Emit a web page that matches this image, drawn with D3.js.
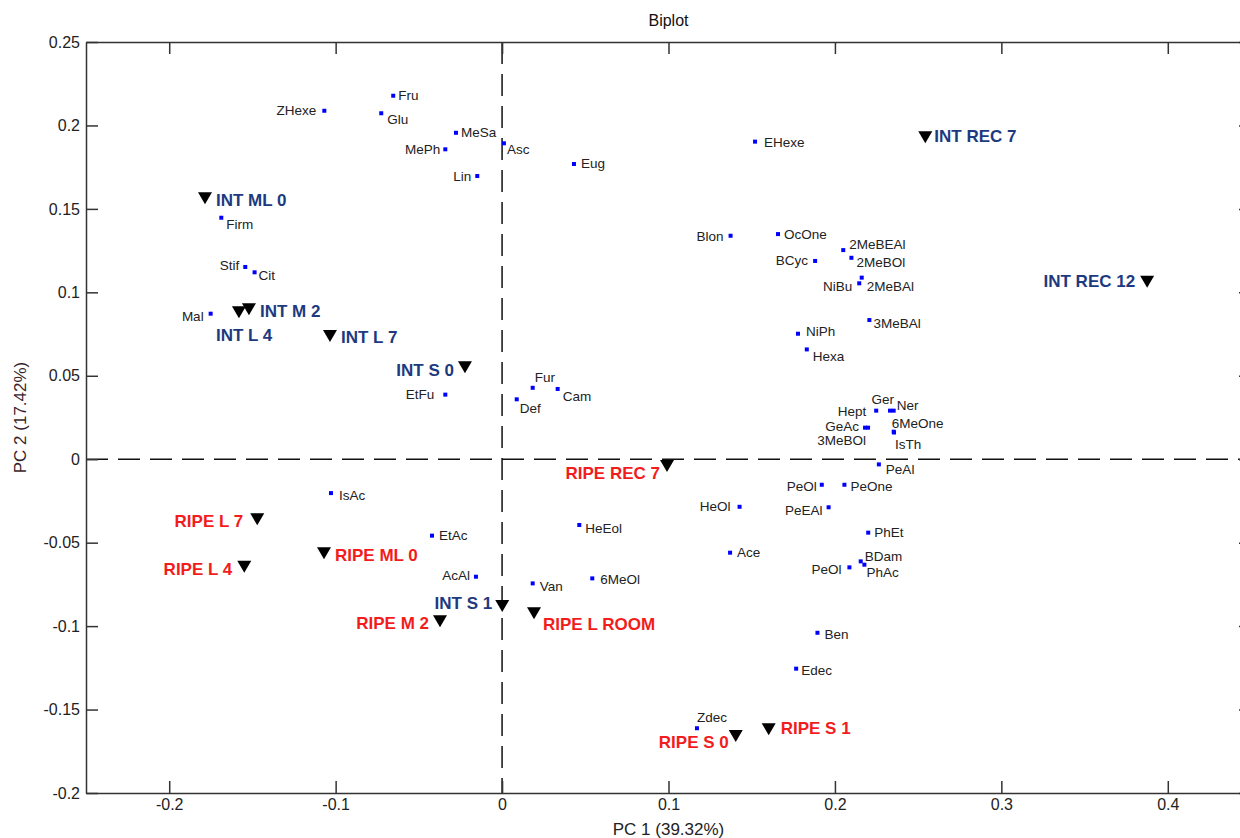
<!DOCTYPE html>
<html>
<head>
<meta charset="utf-8">
<script src="https://cdn.jsdelivr.net/npm/d3@7"></script>
<style>
  body { margin: 0; background: #fff; }
  svg { font-family: "Liberation Sans", Arial, sans-serif; }
</style>
</head>
<body>
<svg id="chart" width="1240" height="838"></svg>
<script>
// variable loadings (blue squares)
const varNames = ["Fru", "ZHexe", "Glu", "MeSa", "MePh", "Asc", "Eug", "Lin", "Firm", "Stif", "Cit", "Mal",
  "EtFu", "Fur", "Def", "Cam", "EHexe", "Blon", "OcOne", "2MeBEAl", "BCyc", "2MeBOl", "NiBu", "2MeBAl",
  "NiPh", "3MeBAl", "Hexa", "Hept", "Ger", "Ner", "GeAc", "3MeBOl", "6MeOne", "IsTh", "PeAl", "PeOl",
  "PeOne", "HeOl", "PeEAl", "PhEt", "Ace", "BDam", "PhAc", "PeOl", "Ben", "Edec", "Zdec", "IsAc",
  "EtAc", "AcAl", "Van", "6MeOl", "HeEol"];
const varPC1 = [-0.0654, -0.1068, -0.0726, -0.0277, -0.0341, 0.0011, 0.0432, -0.0149, -0.1687, -0.1543, -0.1487, -0.1751,
  -0.0341, 0.0184, 0.0088, 0.0334, 0.1520, 0.1373, 0.1658, 0.2050, 0.1881, 0.2099, 0.2146, 0.2161,
  0.1778, 0.2207, 0.1831, 0.2248, 0.2331, 0.2353, 0.2181, 0.2199, 0.2353, 0.2355, 0.2264, 0.1921,
  0.2057, 0.1427, 0.1962, 0.2200, 0.1370, 0.2155, 0.2177, 0.2087, 0.1895, 0.1767, 0.1171, -0.1028,
  -0.0421, -0.0157, 0.0184, 0.0542, 0.0464];
const varPC2 = [0.2178, 0.2088, 0.2073, 0.1956, 0.1857, 0.1893, 0.1769, 0.1697, 0.1447, 0.1152, 0.1120, 0.0872,
  0.0387, 0.0428, 0.0359, 0.0421, 0.1903, 0.1339, 0.1349, 0.1253, 0.1188, 0.1207, 0.1054, 0.1088,
  0.0752, 0.0834, 0.0658, 0.0291, 0.0291, 0.0291, 0.0189, 0.0189, 0.0165, 0.0160, -0.0031, -0.0153,
  -0.0153, -0.0285, -0.0288, -0.0440, -0.0560, -0.0612, -0.0632, -0.0648, -0.1040, -0.1255, -0.1612, -0.0203,
  -0.0458, -0.0704, -0.0744, -0.0714, -0.0394];

// sample scores (black triangles)
const obsNames = ["INT ML 0", "INT M 2", "INT L 4", "INT L 7", "INT S 0", "INT REC 7", "INT REC 12", "INT S 1",
  "RIPE REC 7", "RIPE L 7", "RIPE ML 0", "RIPE L 4", "RIPE M 2", "RIPE L ROOM", "RIPE S 0", "RIPE S 1"];
const obsPC1 = [-0.1785, -0.1521, -0.1581, -0.1034, -0.0223, 0.2543, 0.3876, 0.0001,
  0.0991, -0.1471, -0.1070, -0.1549, -0.0373, 0.0192, 0.1404, 0.1602];
const obsPC2 = [0.1563, 0.0898, 0.0880, 0.0738, 0.0551, 0.1929, 0.1064, -0.0880,
  -0.0041, -0.0360, -0.0564, -0.0644, -0.0971, -0.0923, -0.1658, -0.1618];
const obsGroup = ["INT", "INT", "INT", "INT", "INT", "INT", "INT", "INT",
  "RIPE", "RIPE", "RIPE", "RIPE", "RIPE", "RIPE", "RIPE", "RIPE"];

const xTicks = [-0.2, -0.1, 0, 0.1, 0.2, 0.3, 0.4];
const yTicks = [0.25, 0.2, 0.15, 0.1, 0.05, 0, -0.05, -0.1, -0.15, -0.2];

// label placement, [dx, dy, anchor]
const varLabelPos = [[5,0,"s"],[-8,0,"e"],[6,6,"s"],[5,0,"s"],[-5,0,"e"],[3,6,"s"],[7,0,"s"],[-6,0,"e"],
  [5,7,"s"],[-6,-1,"e"],[4,3,"s"],[-7,3,"e"],[-11,0,"e"],[2,-10,"s"],[3,9,"s"],[5,8,"s"],
  [9,1,"s"],[-7,1,"e"],[6,0,"s"],[6,-6,"s"],[-7,0,"e"],[5,5,"s"],[-7,3,"e"],[5,9,"s"],
  [8,-2,"s"],[4,3,"s"],[6,7,"s"],[-10,1,"e"],[4,-11,"e"],[3,-5,"s"],[-6,-1,"e"],[-2,13,"e"],
  [-2,-8,"s"],[1,12,"s"],[7,5,"s"],[-5,2,"e"],[6,2,"s"],[-9,0,"e"],[-6,3,"e"],[6,0,"s"],
  [7,0,"s"],[4,-5,"s"],[2,8,"s"],[-8,2,"e"],[7,2,"s"],[5,2,"s"],[0,-11,"s"],[8,2,"s"],
  [7,0,"s"],[-6,-1,"e"],[7,3,"s"],[8,1,"s"],[6,4,"s"]];
const obsLabelPos = [[11,2,"s"],[11,2,"s"],[-23,23,"s"],[11,1,"s"],[-11,3,"e"],[9,-1,"s"],[-12,0,"e"],[-10,-3,"e"],
  [-7,7,"e"],[-14,2,"e"],[11,2,"s"],[-12,3,"e"],[-11,2,"e"],[9,11,"s"],[-7,7,"e"],[12,-1,"s"]];

const groupColor = { INT: "#1d3a80", RIPE: "#f21c1c" };

const svg = d3.select("#chart");
const mLeft = 86, mRight = 1251, mTop = 42, mBottom = 793;

const x = d3.scaleLinear().domain([-0.25, 0.45]).range([mLeft, mRight]);
const y = d3.scaleLinear().domain([-0.2, 0.25]).range([mBottom, mTop]);
const fmt = d => String(+d.toFixed(2));
const anchor = a => a === "e" ? "end" : "start";

// zero lines
svg.append("line")
  .attr("x1", x(0)).attr("x2", x(0)).attr("y1", mTop).attr("y2", mBottom)
  .attr("stroke", "#111").attr("stroke-width", 1.5).attr("stroke-dasharray", "22,10");
svg.append("line")
  .attr("x1", mLeft).attr("x2", mRight).attr("y1", y(0)).attr("y2", y(0))
  .attr("stroke", "#111").attr("stroke-width", 1.5).attr("stroke-dasharray", "22,10");

// axes, ticks pointing inward
const axisStyle = g => {
  g.select(".domain").attr("stroke", "#333").attr("stroke-width", 1.5);
  g.selectAll(".tick line").attr("stroke", "#333").attr("stroke-width", 1.5);
  g.selectAll("text").attr("font-size", 16).attr("fill", "#222")
    .attr("font-family", "Liberation Sans, Arial, sans-serif");
};
svg.append("g").attr("transform", `translate(0,${mBottom})`)
  .call(d3.axisBottom(x).tickValues(xTicks).tickFormat(fmt).tickSizeInner(-12).tickSizeOuter(0).tickPadding(6))
  .call(axisStyle);
svg.append("g").attr("transform", `translate(0,${mTop})`)
  .call(d3.axisTop(x).tickValues(xTicks).tickFormat("").tickSizeInner(-12).tickSizeOuter(0))
  .call(axisStyle);
svg.append("g").attr("transform", `translate(${mLeft},0)`)
  .call(d3.axisLeft(y).tickValues(yTicks).tickFormat(fmt).tickSizeInner(-12).tickSizeOuter(0).tickPadding(6))
  .call(axisStyle);
svg.append("g").attr("transform", `translate(${mRight},0)`)
  .call(d3.axisRight(y).tickValues(yTicks).tickFormat("").tickSizeInner(-12).tickSizeOuter(0))
  .call(axisStyle);

// variable points
const vars = varNames.map((n, i) => ({ name: n, pc1: varPC1[i], pc2: varPC2[i], pos: varLabelPos[i] }));
svg.append("g").selectAll("rect").data(vars).enter().append("rect")
  .attr("x", d => x(d.pc1) - 2).attr("y", d => y(d.pc2) - 2)
  .attr("width", 4).attr("height", 4).attr("fill", "#0000ff");
svg.append("g").selectAll("text").data(vars).enter().append("text")
  .attr("x", d => x(d.pc1) + d.pos[0]).attr("y", d => y(d.pc2) + d.pos[1])
  .attr("text-anchor", d => anchor(d.pos[2])).attr("dominant-baseline", "central")
  .attr("font-size", 13.5).attr("fill", "#222").text(d => d.name);

// sample points
const obs = obsNames.map((n, i) => ({ name: n, pc1: obsPC1[i], pc2: obsPC2[i], group: obsGroup[i], pos: obsLabelPos[i] }));
svg.append("g").selectAll("path").data(obs).enter().append("path")
  .attr("d", d => {
    const cx = x(d.pc1), cy = y(d.pc2);
    return `M${cx - 7},${cy - 6}L${cx + 7},${cy - 6}L${cx},${cy + 6}Z`;
  })
  .attr("fill", "#000");
svg.append("g").selectAll("text").data(obs).enter().append("text")
  .attr("x", d => x(d.pc1) + d.pos[0]).attr("y", d => y(d.pc2) + d.pos[1])
  .attr("text-anchor", d => anchor(d.pos[2])).attr("dominant-baseline", "central")
  .attr("font-size", 17).attr("font-weight", "bold")
  .attr("fill", d => groupColor[d.group]).text(d => d.name);

// titles
svg.append("text").attr("x", (mLeft + mRight) / 2).attr("y", 20)
  .attr("text-anchor", "middle").attr("dominant-baseline", "central")
  .attr("font-size", 16).attr("fill", "#111").text("Biplot");
svg.append("text").attr("x", (mLeft + mRight) / 2).attr("y", 829)
  .attr("text-anchor", "middle").attr("dominant-baseline", "central")
  .attr("font-size", 17).attr("fill", "#222").text("PC 1 (39.32%)");
svg.append("text").attr("transform", `translate(20,${(mTop + mBottom) / 2}) rotate(-90)`)
  .attr("text-anchor", "middle").attr("dominant-baseline", "central")
  .attr("font-size", 17).attr("fill", "#3a1f2a").text("PC 2 (17.42%)");
</script>
</body>
</html>
